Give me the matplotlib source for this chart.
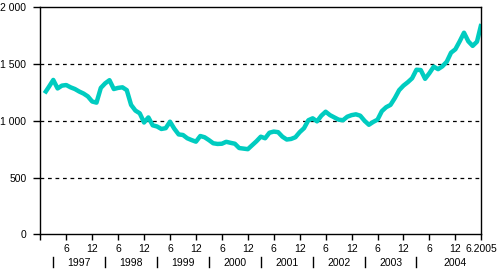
import matplotlib
matplotlib.use("Agg")
import matplotlib.pyplot as plt
import matplotlib.transforms as mtransforms

# ==============================
# DATA (monthly, Jan 1997 - Jun 2005)
# ==============================
values = [
    1242, 1300, 1360, 1285, 1310, 1315, 1295, 1280, 1258, 1240, 1215, 1170,   # 1997
    1160, 1290, 1330, 1358, 1280, 1290, 1295, 1270, 1140, 1090, 1066, 985,    # 1998
    1030, 960, 950, 928, 935, 992, 930, 880, 875, 846, 830, 816,              # 1999
    866, 855, 830, 802, 796, 798, 815, 806, 798, 760, 755, 750,               # 2000
    785, 820, 860, 846, 895, 905, 900, 860, 835, 840, 855, 900,               # 2001
    935, 1005, 1022, 995, 1045, 1080, 1050, 1030, 1010, 1005, 1036, 1050,     # 2002
    1057, 1045, 1000, 965, 990, 1010, 1085, 1120, 1140, 1200, 1270, 1310,     # 2003
    1340, 1375, 1450, 1447, 1370, 1420, 1477, 1455, 1480, 1520, 1600, 1630,   # 2004
    1700, 1776, 1700, 1660, 1697, 1853,                                       # 2005
]
months = list(range(1, len(values) + 1))

tick_pos = list(range(0, 103, 6))
tick_labels = ["", "6", "12", "6", "12", "6", "12", "6", "12", "6", "12",
               "6", "12", "6", "12", "6", "12", "6.2005"]
years = ["1997", "1998", "1999", "2000", "2001", "2002", "2003", "2004"]
year_centers = [9, 21, 33, 45, 57, 69, 81, 96]
year_seps = [3, 15, 27, 39, 51, 63, 75, 87]

y_ticks = [0, 500, 1000, 1500, 2000]
y_labels = ["0", "500", "1 000", "1 500", "2 000"]

# ==============================
# PLOT
# ==============================
plt.rcParams["font.family"] = ["Liberation Sans", "DejaVu Sans"]
fs = 7.5

fig = plt.figure(figsize=(4.97, 2.69), dpi=100)
ax = fig.add_axes([40.3 / 497, 1 - 234.3 / 269, 441 / 497, 227 / 269])

ax.plot(months, values, color="#00CCC0", lw=3.2, solid_joinstyle="round",
        solid_capstyle="butt")

ax.set_xlim(0, 102)
ax.set_ylim(0, 2000)

for v in [500, 1000, 1500]:
    ax.axhline(v, color="black", lw=0.9, ls=(0, (3, 3)), zorder=0)

ax.set_yticks(y_ticks)
ax.set_yticklabels(y_labels, fontsize=fs)
ax.set_xticks(tick_pos)
ax.set_xticklabels(tick_labels, fontsize=fs)
ax.tick_params(axis="y", length=5, width=1, pad=5)
ax.tick_params(axis="x", length=4, width=1, pad=3)

for s in ax.spines.values():
    s.set_linewidth(1)
    s.set_color("black")

trans = mtransforms.blended_transform_factory(ax.transData, ax.transAxes)
for yr, c in zip(years, year_centers):
    ax.text(c, -0.125, yr, transform=trans, ha="center", va="center",
            fontsize=fs, clip_on=False)
for s in year_seps:
    ax.plot([s, s], [-0.099, -0.144], transform=trans, color="black",
            lw=1, clip_on=False)

plt.savefig("out.png", dpi=100)
